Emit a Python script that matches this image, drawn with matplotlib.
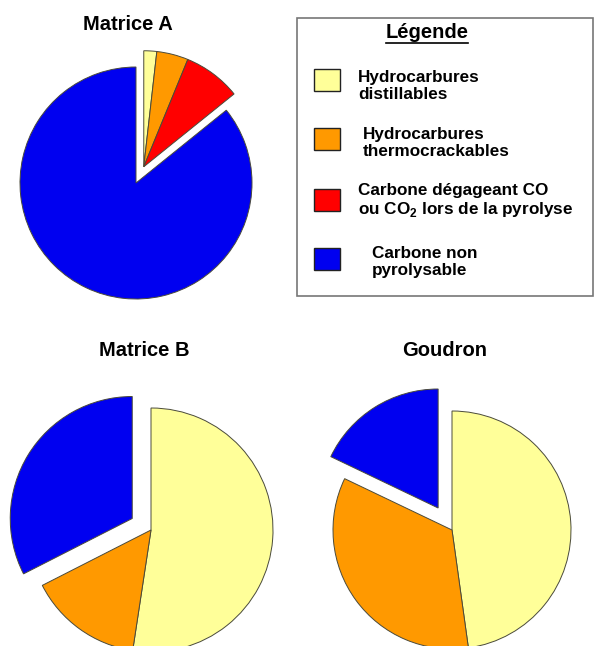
import numpy as np
import matplotlib.pyplot as plt
from matplotlib.patches import Rectangle

plt.rcParams['font.family'] = ['Liberation Sans', 'DejaVu Sans']
plt.rcParams['mathtext.fontset'] = 'custom'
plt.rcParams['mathtext.rm'] = 'Liberation Sans:bold'
plt.rcParams['mathtext.bf'] = 'Liberation Sans:bold'

W, H = 596, 646

categories = ["Hydrocarbures\ndistillables",
              "Hydrocarbures\nthermocrackables",
              "Carbone dégageant CO\nou CO$_2$ lors de la pyrolyse",
              "Carbone non\npyrolysable"]
colors = ["#FFFF99", "#FF9900", "#FF0000", "#0000F0"]

# parts (%)
matrice_a = [1.8, 4.4, 8.0, 85.8]
matrice_b = [52.4, 15.1, 0.0, 32.5]
goudron = [47.8, 34.3, 0.0, 17.9]


def px(x, y):
    return x, H - y


def draw_pie(ax, values, center, radius, explode_idx, dist, title, title_pos):
    keep = [i for i, v in enumerate(values) if v > 0]
    vals = [values[i] for i in keep]
    cols = [colors[i] for i in keep]
    wedges, _ = ax.pie(vals, colors=cols, startangle=90, counterclock=False,
                       center=px(*center), radius=radius,
                       wedgeprops=dict(edgecolor="#4a4a3a", linewidth=0.7))
    # exploded slices move together along the bisector of the group
    group = [wedges[keep.index(i)] for i in explode_idx]
    t_lo = min(min(w.theta1, w.theta2) for w in group)
    t_hi = max(max(w.theta1, w.theta2) for w in group)
    mid = np.radians((t_lo + t_hi) / 2)
    cx, cy = px(*center)
    for w in group:
        w.set_center((cx + dist * np.cos(mid), cy + dist * np.sin(mid)))
    ax.text(*px(*title_pos), title, ha="center", va="center",
            fontsize=14.5, fontweight="bold")


fig = plt.figure(figsize=(W / 100, H / 100), dpi=100)
ax = fig.add_axes([0, 0, 1, 1])

draw_pie(ax, matrice_a, (136, 183), 116, [0, 1, 2], 18, "Matrice A", (128, 25))
draw_pie(ax, matrice_b, (151, 530), 122, [3], 22, "Matrice B", (144, 350))
draw_pie(ax, goudron, (452, 530), 119, [3], 26, "Goudron", (445, 350))

# legend box
x0, y0 = px(297, 296)
ax.add_patch(Rectangle((x0, y0), 296, 278, facecolor="white",
                       edgecolor="#777777", linewidth=1.2))
ax.text(*px(427, 33), "Légende", ha="center", va="center",
        fontsize=14.5, fontweight="bold")
ax.plot([386, 468], [H - 43, H - 43], color="black", lw=1.2)

swatch_y = [80, 139, 200, 259]
text_y = [86, 143, 201, 262]
text_x = [358, 363, 358, 372]
for i, lab in enumerate(categories):
    sx, sy = px(314, swatch_y[i] + 11)
    ax.add_patch(Rectangle((sx, sy), 26, 22, facecolor=colors[i],
                           edgecolor="#222222", linewidth=1.0))
    ax.text(*px(text_x[i], text_y[i]), lab, ha="left", va="center",
            fontsize=12.3, fontweight="bold", linespacing=1.15)

ax.set_xlim(0, W)
ax.set_ylim(0, H)
ax.set_aspect("equal")
ax.axis("off")
fig.savefig("out.png", dpi=100)
